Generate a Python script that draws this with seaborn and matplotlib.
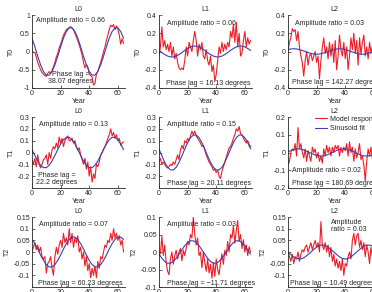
import numpy as np
import matplotlib
matplotlib.use("Agg")
import matplotlib.pyplot as plt
import seaborn as sns

# Year axis (yearly model output, fit sampled every 2 years)
years = np.arange(65)
fit_years = np.arange(0, 65, 2)

# ---- model response (red) ----
red_T0_L0 = [0.02, -0.02, -0.03, -0.15, -0.3, -0.4, -0.5, -0.58, -0.62, -0.66, -0.68, -0.6, -0.55, -0.6, -0.52,
             -0.42, -0.3, -0.15, -0.05, 0.1, 0.2, 0.32, 0.45, 0.52, 0.6, 0.62, 0.66, 0.68, 0.64, 0.6, 0.5, 0.4,
             0.3, 0.18, 0.05, -0.1, -0.3, -0.45, -0.35, -0.42, -0.6, -0.66, -0.7, -0.92, -0.88, -0.62, -0.55,
             -0.42, -0.3, -0.15, 0.0, 0.12, 0.3, 0.45, 0.6, 0.72, 0.68, 0.74, 0.6, 0.7, 0.62, 0.45, 0.2, 0.35, 0.22]
red_T0_L1 = [-0.05, 0.05, 0.27, 0.05, 0.12, 0.02, 0.08, 0.0, 0.1, -0.05, 0.05, -0.08, -0.02, -0.12, -0.18, -0.2,
             -0.18, -0.2, -0.1, 0.05, -0.05, 0.1, 0.05, 0.0, 0.12, 0.22, 0.12, -0.05, 0.08, 0.02, 0.1, -0.05,
             -0.08, 0.02, -0.1, -0.15, -0.05, -0.22, -0.15, -0.33, -0.25, -0.1, 0.05, -0.02, 0.1, 0.0, 0.08, 0.02,
             0.1, 0.05, 0.22, 0.15, 0.3, 0.1, 0.32, 0.05, 0.2, -0.05, -0.02, 0.12, 0.22, 0.05, 0.15, 0.08, 0.12]
red_T0_L2 = [0.0, 0.1, 0.15, 0.25, 0.22, 0.24, 0.12, 0.22, 0.05, -0.05, -0.12, -0.27, -0.1, 0.0, -0.15, -0.05,
             -0.02, -0.1, -0.05, 0.0, -0.12, -0.05, -0.3, -0.1, 0.05, 0.15, -0.02, 0.05, -0.08, 0.1, -0.05, 0.08,
             -0.12, 0.12, -0.2, -0.05, 0.18, 0.02, -0.05, 0.1, -0.08, 0.05, -0.2, -0.05, 0.15, 0.02, 0.2, -0.02,
             0.12, -0.15, 0.15, -0.03, 0.1, 0.18, -0.05, 0.05, -0.08, 0.1, -0.02, 0.06, -0.05, 0.05, 0.0, 0.02, 0.0]
red_T1_L0 = [-0.06, -0.1, -0.05, -0.12, -0.02, -0.1, -0.13, -0.1, -0.06, -0.05, -0.02, -0.1, 0.0, -0.05, 0.02,
             0.05, 0.03, 0.08, 0.04, 0.13, 0.08, 0.12, 0.05, 0.1, 0.12, 0.14, 0.1, 0.1, 0.12, 0.08, 0.1, 0.05,
             0.02, 0.04, -0.02, -0.06, -0.1, -0.05, -0.14, -0.08, -0.2, -0.12, -0.25, -0.18, -0.22, -0.1, -0.12,
             -0.08, -0.02, 0.0, 0.03, 0.05, 0.08, 0.12, 0.15, 0.2, 0.14, 0.17, 0.12, 0.15, 0.1, 0.12, 0.06, 0.08, 0.09]
red_T1_L1 = [-0.08, -0.05, -0.1, -0.08, -0.1, -0.12, -0.13, -0.12, -0.1, -0.11, -0.08, -0.1, -0.06, -0.02, -0.06,
             0.02, 0.06, 0.03, 0.1, 0.08, 0.12, 0.1, 0.14, 0.18, 0.15, 0.18, 0.14, 0.12, 0.1, 0.08, 0.05, 0.06,
             0.02, -0.02, -0.05, -0.08, -0.1, -0.12, -0.15, -0.14, -0.17, -0.15, -0.2, -0.22, -0.16, -0.12, -0.08,
             -0.04, 0.0, 0.04, 0.05, 0.08, 0.12, 0.15, 0.2, 0.18, 0.22, 0.16, 0.15, 0.12, 0.1, 0.08, 0.1, 0.07, 0.05]
red_T1_L2 = [-0.07, -0.05, 0.0, 0.02, 0.01, 0.05, -0.02, 0.14, 0.02, 0.05, 0.0, -0.03, 0.02, -0.05, 0.01, -0.02,
             -0.05, 0.03, 0.0, 0.02, -0.03, 0.0, -0.05, -0.02, -0.06, 0.02, -0.02, 0.04, 0.0, 0.03, -0.02, 0.03,
             0.0, 0.04, 0.02, 0.04, -0.02, 0.03, 0.0, 0.03, 0.01, 0.05, -0.02, 0.06, 0.0, 0.03, -0.05, 0.02, -0.03,
             0.0, 0.05, -0.04, -0.02, -0.07, -0.16, -0.05, 0.02, -0.02, 0.03, -0.04, 0.02, -0.03, 0.0, 0.02, 0.0]
red_T2_L0 = [0.0, 0.02, 0.04, 0.01, 0.03, 0.0, 0.02, -0.02, -0.03, -0.02, -0.09, -0.05, -0.04, -0.02, -0.07, -0.1,
             -0.02, 0.02, -0.01, 0.03, 0.05, 0.02, 0.08, 0.04, 0.06, 0.03, 0.1, 0.04, 0.08, 0.02, 0.06, 0.04, 0.07,
             0.0, 0.02, -0.03, 0.0, -0.06, -0.02, -0.08, -0.05, -0.11, -0.07, -0.1, -0.06, -0.11, -0.04, -0.07,
             -0.02, -0.03, 0.0, 0.03, 0.02, 0.05, 0.04, 0.08, 0.05, 0.1, 0.06, 0.08, 0.05, 0.07, 0.03, 0.05, 0.0]
red_T2_L1 = [0.0, -0.005, 0.045, -0.01, 0.02, -0.03, -0.055, -0.065, -0.02, 0.0, -0.035, -0.01, 0.005, -0.02, 0.0,
             0.01, -0.025, 0.005, -0.01, 0.01, 0.03, 0.02, 0.05, 0.04, 0.1, 0.05, 0.02, 0.04, -0.01, 0.0, -0.045,
             0.0, -0.03, -0.055, -0.02, -0.06, -0.035, -0.075, -0.03, -0.07, -0.02, -0.05, -0.065, -0.03, -0.005,
             -0.035, 0.005, -0.01, 0.03, 0.0, 0.05, 0.04, 0.075, 0.025, 0.06, 0.09, 0.03, 0.05, 0.01, 0.035, 0.0,
             0.02, -0.01, 0.015, 0.0]
red_T2_L2 = [0.0, -0.02, -0.04, -0.01, -0.05, -0.02, -0.03, 0.0, -0.04, -0.01, 0.01, 0.0, 0.02, 0.03, 0.0, 0.02,
             0.04, 0.01, 0.03, 0.05, 0.02, 0.04, 0.0, 0.13, 0.03, 0.01, 0.04, 0.0, 0.03, -0.02, 0.02, -0.04, -0.01,
             -0.06, -0.03, -0.07, -0.04, -0.08, -0.03, -0.1, -0.05, -0.06, -0.02, 0.0, -0.03, 0.05, 0.08, 0.03,
             0.07, 0.08, 0.02, 0.05, 0.01, 0.04, -0.02, 0.03, 0.0, -0.05, 0.02, -0.02, 0.03, 0.0, 0.02, -0.01, 0.0]

# ---- sinusoid fit (blue), every 2 years ----
fit_T0_L0 = [.367, .129, -.129, -.367, -.548, -.647, -.647, -.548, -.367, -.129, .129, .367, .548, .647, .647, .548,
             .367, .129, -.129, -.367, -.548, -.647, -.647, -.548, -.367, -.129, .129, .367, .548, .647, .647, .548, .367]
fit_T0_L1 = [.012, -.012, -.033, -.050, -.059, -.059, -.050, -.033, -.012, .012, .033, .050, .059, .059, .050, .033,
             .012, -.012, -.033, -.050, -.059, -.059, -.050, -.033, -.012, .012, .033, .050, .059, .059, .050, .033, .012]
fit_T0_L2 = [.021, .028, .030, .028, .021, .011, 0, -.011, -.021, -.028, -.030, -.028, -.021, -.011, 0, .011,
             .021, .028, .030, .028, .021, .011, 0, -.011, -.021, -.028, -.030, -.028, -.021, -.011, 0, .011, .021]
fit_T1_L0 = [.025, -.025, -.072, -.108, -.128, -.128, -.108, -.072, -.025, .025, .072, .108, .128, .128, .108, .072,
             .025, -.025, -.072, -.108, -.128, -.128, -.108, -.072, -.025, .025, .072, .108, .128, .128, .108, .072, .025]
fit_T1_L1 = [.029, -.029, -.083, -.125, -.147, -.147, -.125, -.083, -.029, .029, .083, .125, .147, .147, .125, .083,
             .029, -.029, -.083, -.125, -.147, -.147, -.125, -.083, -.029, .029, .083, .125, .147, .147, .125, .083, .029]
fit_T1_L2 = [.004, .011, .017, .020, .020, .017, .011, .004, -.004, -.011, -.017, -.020, -.020, -.017, -.011, -.004,
             .004, .011, .017, .020, .020, .017, .011, .004, -.004, -.011, -.017, -.020, -.020, -.017, -.011, -.004, .004]
fit_T2_L0 = [.054, .036, .013, -.013, -.036, -.054, -.064, -.064, -.054, -.036, -.013, .013, .036, .054, .064, .064,
             .054, .036, .013, -.013, -.036, -.054, -.064, -.064, -.054, -.036, -.013, .013, .036, .054, .064, .064, .054]
fit_T2_L1 = [-.006, -.018, -.027, -.032, -.032, -.027, -.018, -.006, .006, .018, .027, .032, .032, .027, .018, .006,
             -.006, -.018, -.027, -.032, -.032, -.027, -.018, -.006, .006, .018, .027, .032, .032, .027, .018, .006, -.006]
fit_T2_L2 = [0, -.011, -.021, -.028, -.030, -.028, -.021, -.011, 0, .011, .021, .028, .030, .028, .021, .011,
             0, -.011, -.021, -.028, -.030, -.028, -.021, -.011, 0, .011, .021, .028, .030, .028, .021, .011, 0]

row_names = ["T0", "T1", "T2"]
col_names = ["L0", "L1", "L2"]
red = [[red_T0_L0, red_T0_L1, red_T0_L2], [red_T1_L0, red_T1_L1, red_T1_L2], [red_T2_L0, red_T2_L1, red_T2_L2]]
fit = [[fit_T0_L0, fit_T0_L1, fit_T0_L2], [fit_T1_L0, fit_T1_L1, fit_T1_L2], [fit_T2_L0, fit_T2_L1, fit_T2_L2]]

ylims = [[(-1, 1), (-0.4, 0.4), (-0.4, 0.4)],
         [(-0.3, 0.3), (-0.3, 0.3), (-0.2, 0.2)],
         [(-0.15, 0.15), (-0.1, 0.1), (-0.15, 0.15)]]
yticks = [[[-1, -0.5, 0, 0.5, 1], [-0.4, -0.2, 0, 0.2, 0.4], [-0.4, -0.2, 0, 0.2, 0.4]],
          [[-0.2, -0.1, 0, 0.1, 0.2, 0.3], [-0.2, -0.1, 0, 0.1, 0.2, 0.3], [-0.2, -0.1, 0, 0.1, 0.2]],
          [[-0.1, -0.05, 0, 0.05, 0.1, 0.15], [-0.1, -0.05, 0, 0.05, 0.1], [-0.1, -0.05, 0, 0.05, 0.1, 0.15]]]

# annotation text: (amplitude text, x, y, ha), (phase text, x, y, ha)
amp_text = [[("Amplitude ratio = 0.66", 0.04, 0.92, "left"), ("Amplitude ratio = 0.06", 0.083, 0.89, "left"),
             ("Amplitude ratio = 0.03", 0.075, 0.89, "left")],
            [("Amplitude ratio = 0.13", 0.08, 0.9, "left"), ("Amplitude ratio = 0.15", 0.083, 0.9, "left"),
             ("Amplitude ratio = 0.02", 0.04, 0.24, "left")],
            [("Amplitude ratio = 0.07", 0.08, 0.9, "left"), ("Amplitude ratio = 0.03", 0.083, 0.9, "left"),
             ("Amplitude\nratio = 0.03", 0.46, 0.87, "left")]]
phase_text = [[("Phase lag =\n38.07 degrees", 0.415, 0.14, "center"), ("Phase lag = 16.13 degrees", 0.075, 0.065, "left"),
               ("Phase lag = 142.27 degrees", 0.04, 0.075, "left")],
              [("Phase lag =\n22.2 degrees", 0.265, 0.127, "center"), ("Phase lag = 20.11 degrees", 0.083, 0.066, "left"),
               ("Phase lag = 180.69 degrees", 0.04, 0.066, "left")],
              [("Phase lag = 60.23 degrees", 0.068, 0.045, "left"), ("Phase lag = \u221211.71 degrees", 0.083, 0.045, "left"),
               ("Phase lag = 10.49 degrees", 0.02, 0.045, "left")]]

sns.set_style("ticks")
plt.rcParams["font.family"] = ["Liberation Sans", "DejaVu Sans"]
plt.rcParams["axes.linewidth"] = 0.6

RED = "#ec1d27"
BLUE = "#3b3fb0"
FS = 5

fig = plt.figure(figsize=(3.72, 2.92), dpi=100)
col_left = [32 / 372, 159 / 372, 288 / 372]
row_box = [(1 - 88 / 292, 73 / 292), (1 - 188 / 292, 71 / 292), (1 - 287 / 292, 70 / 292)]

for i in range(3):
    for j in range(3):
        ax = fig.add_axes([col_left[j], row_box[i][0], 93 / 372, row_box[i][1]])
        sns.lineplot(x=years, y=red[i][j], ax=ax, color=RED, lw=0.8, label="Model response")
        sns.lineplot(x=fit_years, y=fit[i][j], ax=ax, color=BLUE, lw=0.8, label="Sinusoid fit")
        ax.set_xlim(0, 65)
        ax.set_ylim(*ylims[i][j])
        ax.set_xticks([0, 20, 40, 60])
        ax.set_yticks(yticks[i][j])
        ax.set_yticklabels(["{:g}".format(v) for v in yticks[i][j]])
        ax.tick_params(direction="in", length=2, width=0.5, labelsize=FS, pad=1.5)
        sns.despine(ax=ax)
        ax.set_title(col_names[j], fontsize=FS, pad=3)
        ax.set_xlabel("Year", fontsize=FS, labelpad=1)
        ax.set_ylabel(row_names[i], fontsize=FS, labelpad=2)
        t, x, y, ha = amp_text[i][j]
        ax.text(x, y, t, transform=ax.transAxes, fontsize=FS, ha=ha, va="center", linespacing=1.1)
        t, x, y, ha = phase_text[i][j]
        ax.text(x, y, t, transform=ax.transAxes, fontsize=FS, ha=ha, va="center", linespacing=1.1)
        if (i, j) == (1, 2):
            ax.legend(loc="upper left", bbox_to_anchor=(0.29, 1.02), frameon=False, fontsize=FS,
                      handlelength=1.8, handletextpad=0.4, labelspacing=0.35, borderpad=0, borderaxespad=0)
        else:
            ax.get_legend().remove()

fig.savefig("out.png", dpi=100)
